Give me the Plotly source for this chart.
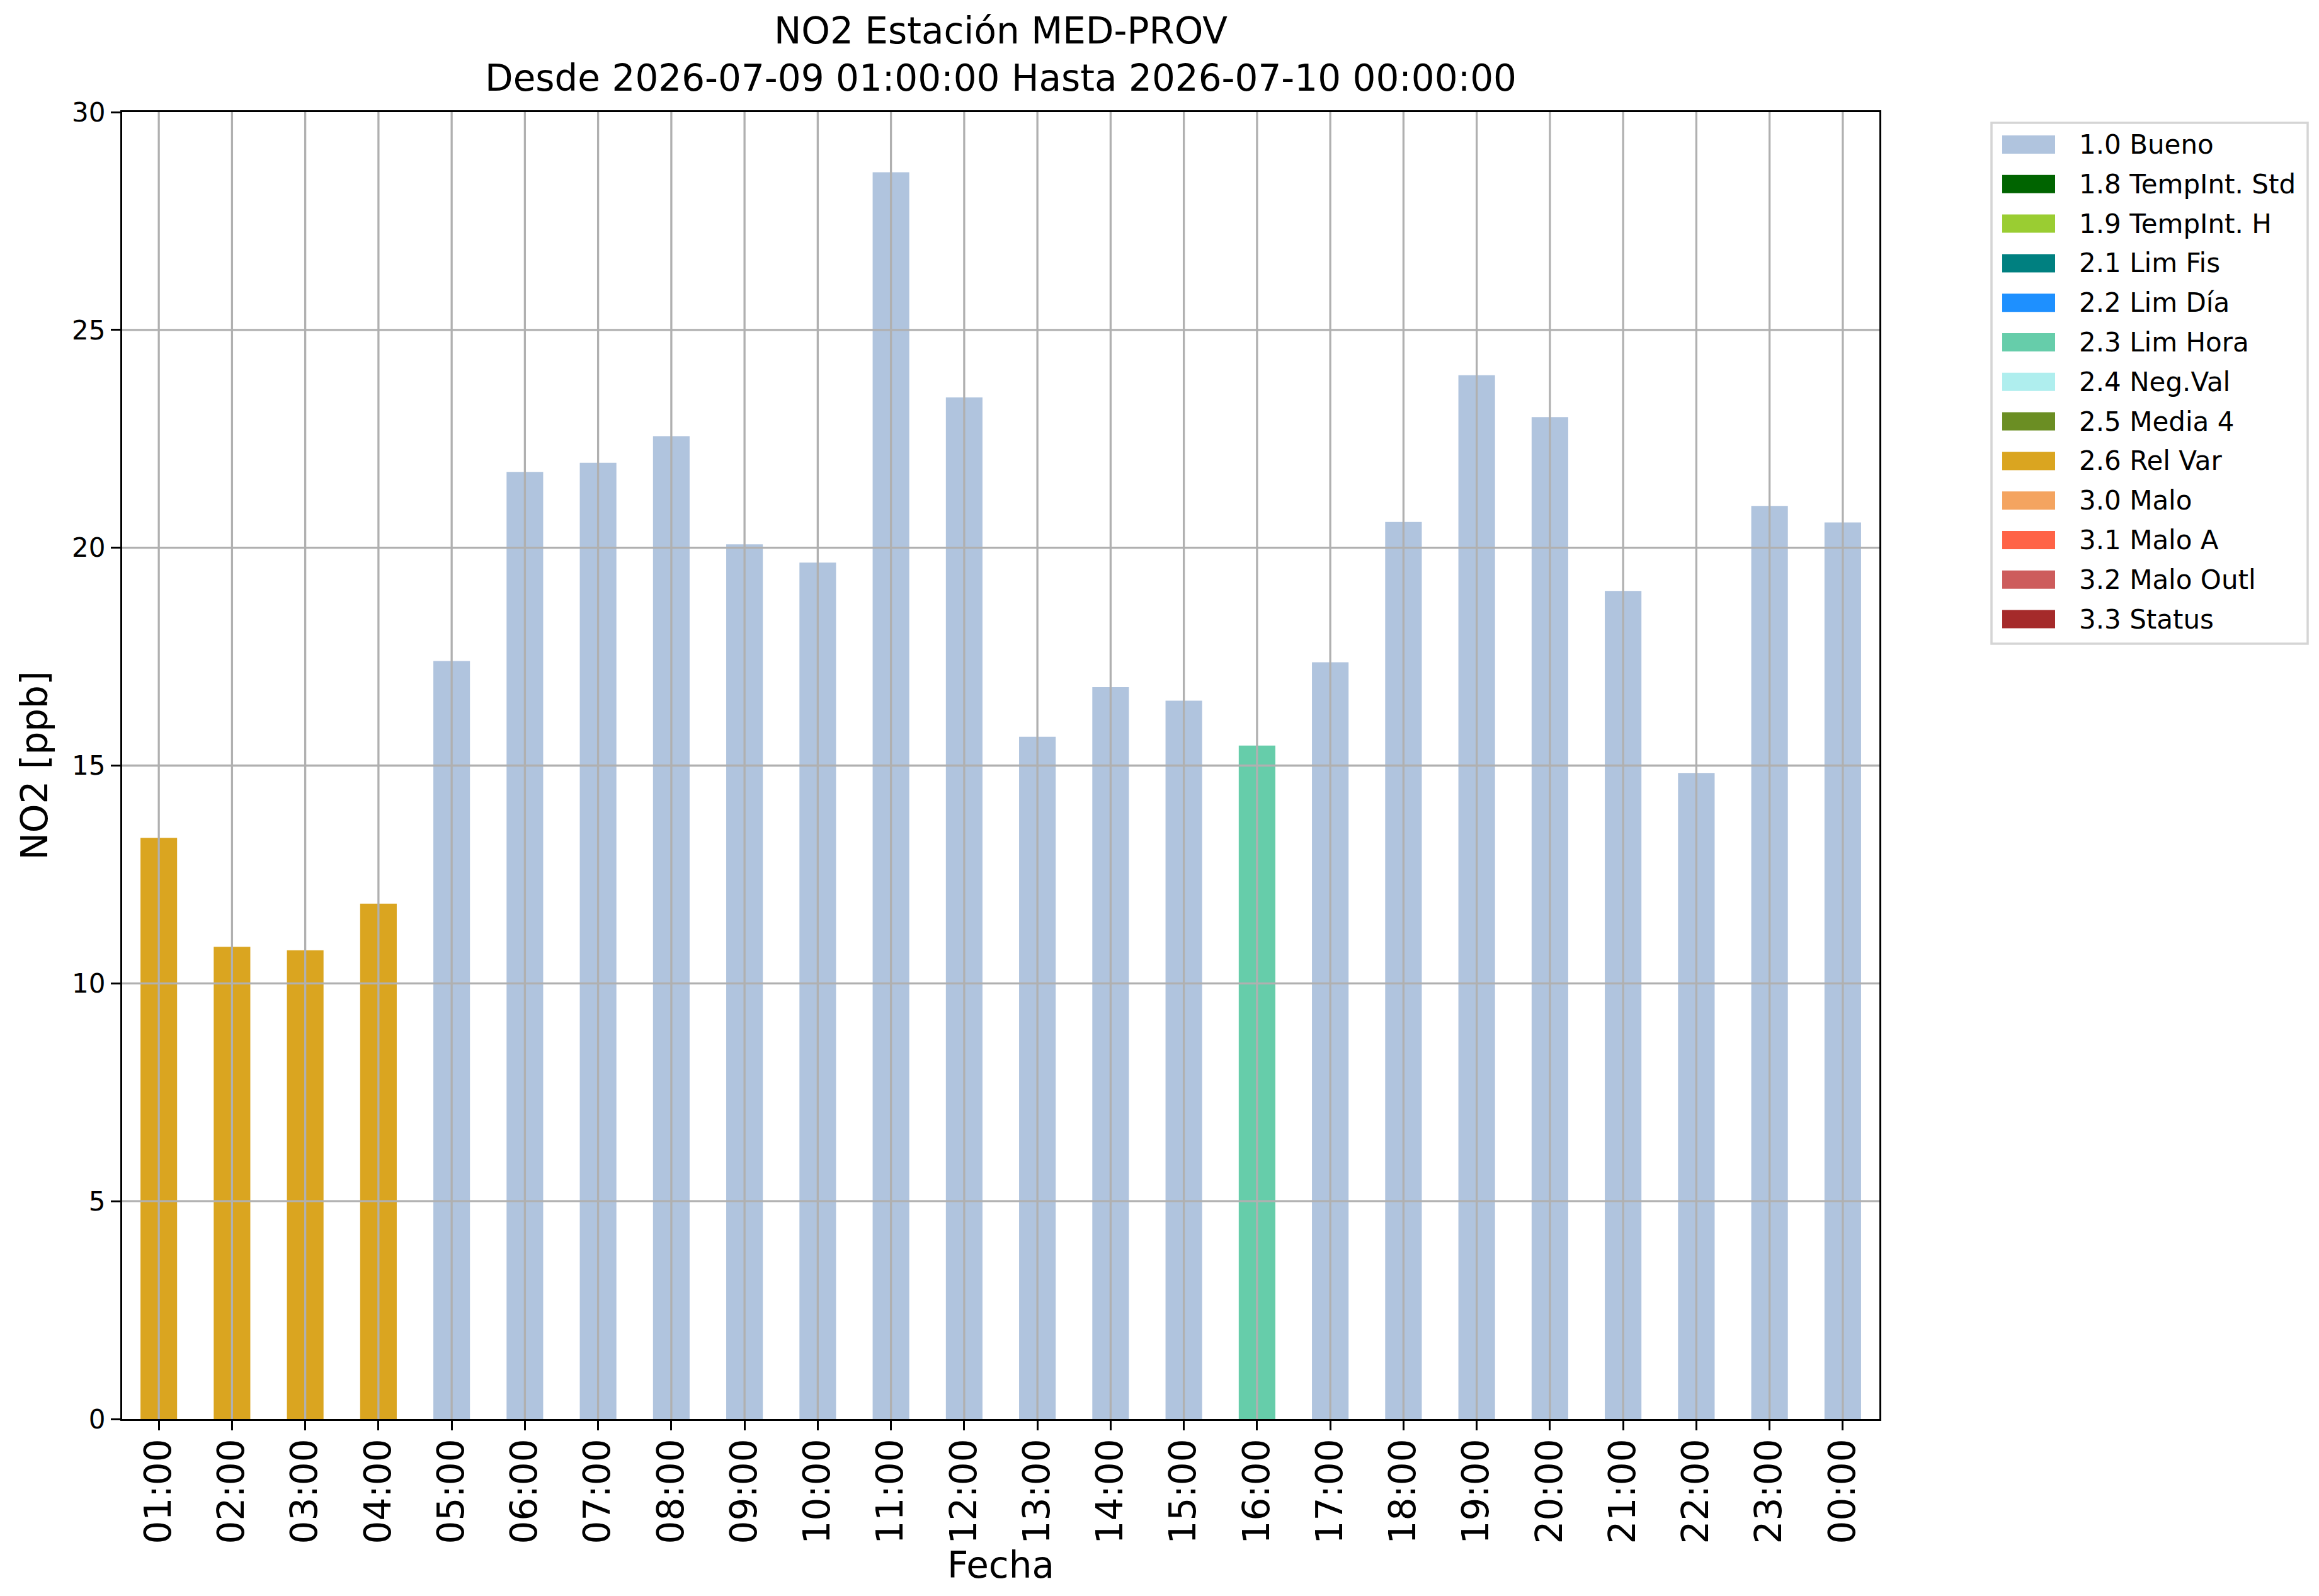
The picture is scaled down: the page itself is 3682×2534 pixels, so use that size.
import plotly.graph_objects as go

hours = [
    "01:00", "02:00", "03:00", "04:00", "05:00", "06:00", "07:00", "08:00",
    "09:00", "10:00", "11:00", "12:00", "13:00", "14:00", "15:00", "16:00",
    "17:00", "18:00", "19:00", "20:00", "21:00", "22:00", "23:00", "00:00",
]
no2_ppb = [
    13.34, 10.84, 10.76, 11.83, 17.40, 21.74, 21.95, 22.56,
    20.08, 19.66, 28.62, 23.45, 15.66, 16.80, 16.49, 15.46,
    17.37, 20.59, 23.96, 23.00, 19.01, 14.83, 20.96, 20.58,
]
# validation flag of every hour
flags = [
    2.6, 2.6, 2.6, 2.6, 1.0, 1.0, 1.0, 1.0,
    1.0, 1.0, 1.0, 1.0, 1.0, 1.0, 1.0, 2.3,
    1.0, 1.0, 1.0, 1.0, 1.0, 1.0, 1.0, 1.0,
]

flag_codes = [1.0, 1.8, 1.9, 2.1, 2.2, 2.3, 2.4, 2.5, 2.6, 3.0, 3.1, 3.2, 3.3]
flag_names = [
    "1.0 Bueno", "1.8 TempInt. Std", "1.9 TempInt. H", "2.1 Lim Fis",
    "2.2 Lim Día", "2.3 Lim Hora", "2.4 Neg.Val", "2.5 Media 4",
    "2.6 Rel Var", "3.0 Malo", "3.1 Malo A", "3.2 Malo Outl", "3.3 Status",
]
flag_colors = [
    "#B0C4DE", "#006400", "#9ACD32", "#008080", "#1E90FF", "#66CDAA",
    "#AFEEEE", "#6B8E23", "#DAA520", "#F4A460", "#FF6347", "#CD5C5C",
    "#A52A2A",
]

y_ticks = [0, 5, 10, 15, 20, 25, 30]

FONT = "DejaVu Sans"
GRID = "#b0b0b0"
W, H = 3682, 2534
M_L, M_R, M_T, M_B = 186, 706, 170, 289


def paper_x(px):
    return (px - M_L) / (W - M_L - M_R)


def paper_y(py):
    return (H - M_B - py) / (H - M_T - M_B)


fig = go.Figure()
for code, name, color in zip(flag_codes, flag_names, flag_colors):
    fig.add_trace(
        go.Bar(
            x=hours,
            y=[v if f == code else None for v, f in zip(no2_ppb, flags)],
            name=name,
            width=0.5,
            marker=dict(color=color, line=dict(width=0)),
            showlegend=False,
        )
    )

# grid on top of the bars, like the original
for h in hours:
    fig.add_vline(x=h, layer="above", line=dict(color=GRID, width=3.3))
for t in y_ticks[1:-1]:
    fig.add_hline(y=t, layer="above", line=dict(color=GRID, width=3.3))

# legend with wide colour patches (plotly's own legend swatches are tiny)
fig.add_shape(
    type="rect", xref="paper", yref="paper",
    x0=paper_x(3154), x1=paper_x(3656), y0=paper_y(1014), y1=paper_y(187),
    line=dict(color="#d5d5d5", width=3.5), fillcolor="white", layer="above",
)
for i, (name, color) in enumerate(zip(flag_names, flag_colors)):
    yc = 221.5 + 62.8 * i
    fig.add_shape(
        type="rect", xref="paper", yref="paper",
        x0=paper_x(3171), x1=paper_x(3255),
        y0=paper_y(yc + 14.5), y1=paper_y(yc - 14.5),
        line=dict(width=0), fillcolor=color, layer="above",
    )
    fig.add_annotation(
        text=name, xref="paper", yref="paper",
        x=paper_x(3291), y=paper_y(yc), xanchor="left", yanchor="middle",
        showarrow=False, font=dict(size=42, family=FONT),
    )

fig.update_layout(
    width=W,
    height=H,
    barmode="overlay",
    plot_bgcolor="white",
    paper_bgcolor="white",
    font=dict(family=FONT, color="black"),
    margin=dict(l=M_L, r=M_R, t=M_T, b=M_B),
    showlegend=False,
    title=dict(
        text="NO2 Estación MED-PROV<br>Desde 2026-07-09 01:00:00 Hasta 2026-07-10 00:00:00",
        x=0.5,
        xref="paper",
        xanchor="center",
        y=0.976,
        yref="container",
        yanchor="middle",
        font=dict(size=58, family=FONT),
    ),
)
fig.update_xaxes(
    type="category",
    categoryorder="array",
    categoryarray=hours,
    range=[-0.5, len(hours) - 0.5],
    showgrid=False,
    showline=True,
    linecolor="black",
    linewidth=3.3,
    mirror=True,
    ticks="outside",
    ticklen=15,
    tickwidth=3.3,
    tickcolor="black",
    tickangle=-90,
    ticklabelstandoff=-10,
    tickfont=dict(size=58),
    title=dict(text="Fecha", font=dict(size=58), standoff=0),
)
fig.update_yaxes(
    range=[0, 30],
    tickvals=y_ticks,
    showgrid=False,
    zeroline=False,
    showline=True,
    linecolor="black",
    linewidth=3.3,
    mirror=True,
    ticks="outside",
    ticklen=15,
    tickwidth=3.3,
    tickcolor="black",
    tickfont=dict(size=42),
    title=dict(text="NO2 [ppb]", font=dict(size=58), standoff=20),
)

fig.write_html("out.html")
